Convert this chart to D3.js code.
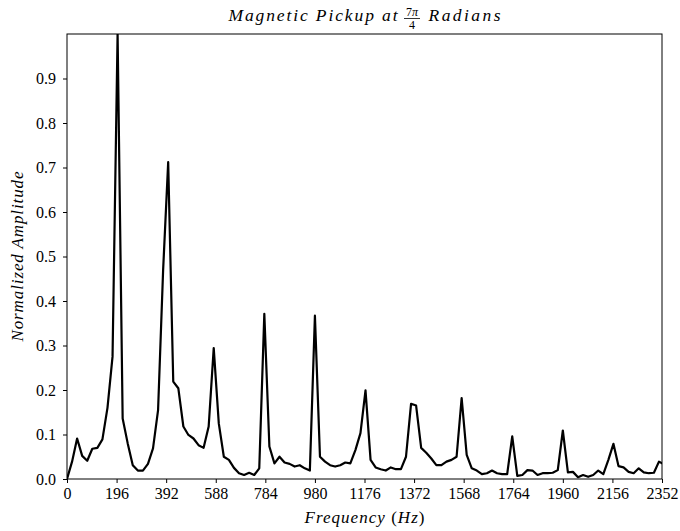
<!DOCTYPE html>
<html>
<head>
<meta charset="utf-8">
<script src="https://cdn.jsdelivr.net/npm/d3@7"></script>
<style>
  html, body { margin: 0; padding: 0; background: #fff; }
  svg { display: block; }
</style>
</head>
<body>
<svg id="chart" width="680" height="531"></svg>
<script>
// FFT bin spacing of the spectrum (Hz)
const binStepHz = 20;

// Normalized spectrum amplitude, one value per 20 Hz bin
const amplitude = [
  0.000, 0.039, 0.091, 0.052, 0.041, 0.068, 0.070, 0.089, 0.160, 0.275,
  1.000, 0.136, 0.080, 0.031, 0.019, 0.019, 0.034, 0.069, 0.155, 0.470,
  0.712, 0.219, 0.204, 0.118, 0.099, 0.091, 0.076, 0.070, 0.118, 0.294,
  0.125, 0.050, 0.043, 0.025, 0.013, 0.009, 0.014, 0.009, 0.024, 0.371,
  0.073, 0.035, 0.050, 0.037, 0.034, 0.028, 0.031, 0.024, 0.019, 0.367,
  0.050, 0.039, 0.031, 0.028, 0.031, 0.037, 0.035, 0.065, 0.103, 0.199,
  0.043, 0.026, 0.022, 0.019, 0.026, 0.022, 0.022, 0.050, 0.169, 0.165,
  0.070, 0.059, 0.046, 0.031, 0.031, 0.039, 0.043, 0.050, 0.182, 0.054,
  0.024, 0.019, 0.011, 0.013, 0.019, 0.013, 0.011, 0.011, 0.096, 0.007,
  0.009, 0.020, 0.019, 0.009, 0.013, 0.013, 0.014, 0.020, 0.109, 0.015,
  0.016, 0.004, 0.009, 0.005, 0.009, 0.019, 0.011, 0.043, 0.079, 0.029,
  0.026, 0.016, 0.013, 0.024, 0.015, 0.013, 0.014, 0.039, 0.033
];

// Axis ticks
const xTicks = [0, 196, 392, 588, 784, 980, 1176, 1372, 1568, 1764, 1960, 2156, 2352];
const yTicks = [0.0, 0.1, 0.2, 0.3, 0.4, 0.5, 0.6, 0.7, 0.8, 0.9];

const xDomain = [0, 2352];
const yDomain = [0, 1.0];

// ---- layout ----
const W = 680, H = 531;
const margin = { top: 34, right: 18, bottom: 52, left: 67 };
const innerW = W - margin.left - margin.right;
const innerH = H - margin.top - margin.bottom;
const serif = "'Liberation Serif', 'DejaVu Serif', serif";

const svg = d3.select("#chart");

const x = d3.scaleLinear().domain(xDomain).range([margin.left, margin.left + innerW]);
const y = d3.scaleLinear().domain(yDomain).range([margin.top + innerH, margin.top]);

const points = amplitude.map((a, i) => ({ f: i * binStepHz, a }));

// clip the trace to the axes box
svg.append("defs").append("clipPath").attr("id", "plot-clip")
  .append("rect")
  .attr("x", margin.left).attr("y", margin.top)
  .attr("width", innerW).attr("height", innerH);

// spectrum trace
const line = d3.line().x(d => x(d.f)).y(d => y(d.a));
svg.append("path")
  .datum(points)
  .attr("clip-path", "url(#plot-clip)")
  .attr("fill", "none")
  .attr("stroke", "#000")
  .attr("stroke-width", 2.2)
  .attr("stroke-linejoin", "round")
  .attr("d", line);

// axes
const xAxis = svg.append("g")
  .attr("transform", `translate(0,${margin.top + innerH})`)
  .call(d3.axisBottom(x).tickValues(xTicks).tickFormat(d3.format("d")).tickSize(4).tickPadding(5));
const yAxis = svg.append("g")
  .attr("transform", `translate(${margin.left},0)`)
  .call(d3.axisLeft(y).tickValues(yTicks).tickFormat(d3.format(".1f")).tickSize(4).tickPadding(7));

[xAxis, yAxis].forEach(g => {
  g.select(".domain").remove();
  g.selectAll(".tick line").attr("stroke", "#000").attr("stroke-width", 1);
  g.selectAll(".tick text")
    .attr("fill", "#000")
    .attr("font-family", serif)
    .attr("font-size", 16);
});

// axes frame
svg.append("rect")
  .attr("x", margin.left).attr("y", margin.top)
  .attr("width", innerW).attr("height", innerH)
  .attr("fill", "none").attr("stroke", "#000").attr("stroke-width", 1);

// ---- title: Magnetic Pickup at 7π/4 Radians ----
const cx = margin.left + innerW / 2;
const title = svg.append("g").attr("font-family", serif).attr("fill", "#000");
title.append("text")
  .attr("x", cx - 136).attr("y", 21)
  .attr("font-size", 17.5).attr("font-style", "italic")
  .attr("textLength", 169).attr("lengthAdjust", "spacing")
  .text("Magnetic Pickup at");
const fracX = cx + 47.5;
const num = title.append("text")
  .attr("x", fracX).attr("y", 15.5)
  .attr("font-size", 12).attr("text-anchor", "middle");
num.append("tspan").text("7");
num.append("tspan").attr("font-style", "italic").text("π");
title.append("line")
  .attr("x1", fracX - 8).attr("x2", fracX + 8)
  .attr("y1", 18.5).attr("y2", 18.5)
  .attr("stroke", "#000").attr("stroke-width", 0.8);
title.append("text")
  .attr("x", fracX).attr("y", 28.5)
  .attr("font-size", 12).attr("text-anchor", "middle")
  .text("4");
title.append("text")
  .attr("x", cx + 64).attr("y", 21)
  .attr("font-size", 17.5).attr("font-style", "italic")
  .attr("textLength", 72).attr("lengthAdjust", "spacing")
  .text("Radians");

// ---- axis labels ----
const xLabel = svg.append("text")
  .attr("x", cx).attr("y", 523)
  .attr("text-anchor", "middle")
  .attr("font-family", serif).attr("font-size", 17)
  .attr("textLength", 120).attr("lengthAdjust", "spacing");
xLabel.append("tspan").attr("font-style", "italic").text("Frequency ");
xLabel.append("tspan").text("(");
xLabel.append("tspan").attr("font-style", "italic").text("Hz");
xLabel.append("tspan").text(")");

svg.append("text")
  .attr("transform", `translate(23,${margin.top + innerH / 2}) rotate(-90)`)
  .attr("text-anchor", "middle")
  .attr("font-family", serif).attr("font-size", 17).attr("font-style", "italic")
  .attr("textLength", 170).attr("lengthAdjust", "spacing")
  .text("Normalized Amplitude");
</script>
</body>
</html>
